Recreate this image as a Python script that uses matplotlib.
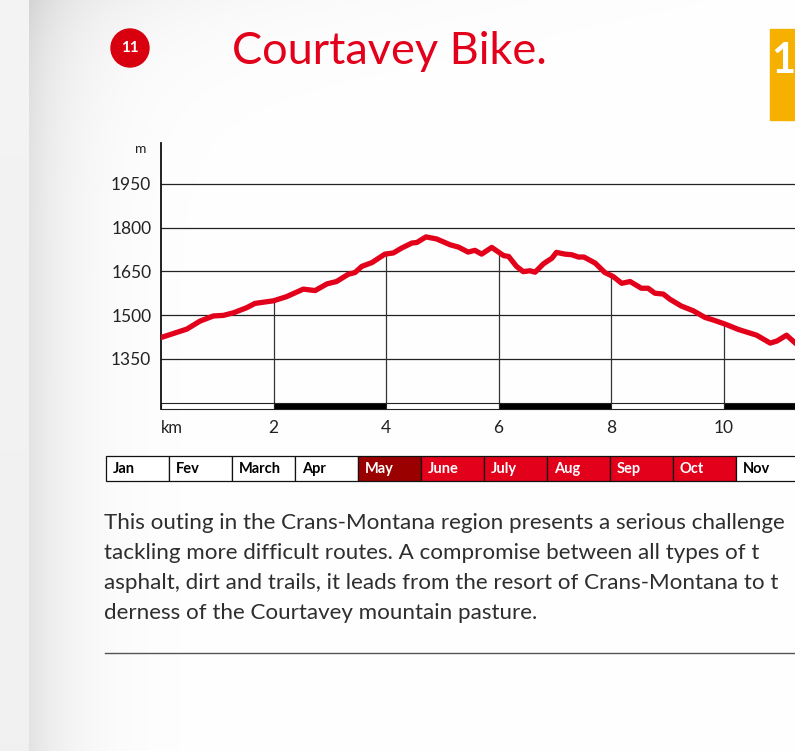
import numpy as np
import matplotlib.pyplot as plt
from matplotlib.patches import Rectangle, Circle
from matplotlib.transforms import blended_transform_factory

plt.rcParams['font.family'] = ['Lato', 'DejaVu Sans']

W, H = 795, 751  # taille en pixels

# profil altimétrique : distance (km) et altitude (m)
distance = [0, 0.46, 0.69, 0.93, 1.11, 1.29, 1.52, 1.67, 2.00, 2.23,
            2.53, 2.74, 2.95, 3.12, 3.33, 3.45, 3.57, 3.75, 3.98, 4.13,
            4.28, 4.46, 4.55, 4.71, 4.90, 5.14, 5.29, 5.46, 5.58, 5.70,
            5.88, 6.00, 6.09, 6.18, 6.32, 6.44, 6.56, 6.65, 6.80, 6.95,
            7.03, 7.18, 7.30, 7.42, 7.52, 7.72, 7.89, 8.04, 8.19, 8.34,
            8.54, 8.66, 8.78, 8.93, 9.05, 9.25, 9.46, 9.67, 9.82, 10.03,
            10.26, 10.59, 10.83, 10.95, 11.12, 11.30]
altitude = [1423, 1452, 1479, 1497, 1499, 1508, 1525, 1540, 1549, 1563,
            1589, 1584, 1607, 1615, 1640, 1646, 1667, 1680, 1709, 1713,
            1730, 1747, 1749, 1768, 1761, 1741, 1733, 1716, 1722, 1709,
            1732, 1716, 1704, 1701, 1667, 1649, 1652, 1647, 1676, 1695,
            1715, 1709, 1707, 1699, 1699, 1678, 1646, 1632, 1609, 1615,
            1592, 1592, 1575, 1572, 1554, 1531, 1515, 1492, 1483, 1469,
            1451, 1431, 1404, 1411, 1431, 1400]

y_ticks = [1350, 1500, 1650, 1800, 1950]
km_marks = [2, 4, 6, 8, 10]
scale_edges = [0, 2, 4, 6, 8, 10, 12]

months = ["Jan", "Fev", "March", "Apr", "May", "June", "July", "Aug",
          "Sep", "Oct", "Nov"]
# 0 = fermé, 1 = début de saison, 2 = ouvert
season = [0, 0, 0, 0, 1, 2, 2, 2, 2, 2, 0]

title = "Courtavey Bike."
route_no = "11"
next_no = "1"
body = ["This outing in the Crans-Montana region presents a serious challenge",
        "tackling more difficult routes. A compromise between all types of t",
        "asphalt, dirt and trails, it leads from the resort of Crans-Montana to t",
        "derness of the Courtavey mountain pasture."]

RED = "#e2001a"
DARK_RED = "#9b0000"
YELLOW = "#f5b000"

fig = plt.figure(figsize=(W / 100, H / 100), dpi=100)

# fond de page (ombre en haut à gauche)
bg = fig.add_axes([0, 0, 1, 1])
bg.set_xlim(0, W)
bg.set_ylim(H, 0)
bg.axis('off')
xx, yy = np.meshgrid(np.arange(W), np.arange(H))
shade = 1 - 0.11 * np.exp(-(xx - 29) / 45.0) - 0.06 * np.exp(-yy / 55.0) * np.exp(-(xx - 29) / 250.0)
shade = np.where(xx < 29, 0.955 - 0.01 * yy / H, shade)
img = np.dstack([shade, shade, shade]).clip(0, 1)
bg.imshow(img, extent=(0, W, H, 0), aspect='auto', zorder=0)

# pastille et titre
bg.add_patch(Circle((130, 48), 19, color="#d8000f", zorder=2))
bg.text(130, 48.5, route_no, color="white", fontsize=11, fontweight="bold",
        ha="center", va="center", zorder=3)
bg.text(232, 64, title, color=RED, fontsize=32.5, va="baseline", zorder=3)

# onglet jaune à droite
bg.add_patch(Rectangle((770, 29), 40, 91, color=YELLOW, zorder=2))
bg.text(771, 73, next_no, color="white", fontsize=30, fontweight="bold",
        va="baseline", zorder=3)

# tableau des mois
for i, (mois, s) in enumerate(zip(months, season)):
    x0 = 106 + i * 63
    face = {0: "white", 1: DARK_RED, 2: RED}[s]
    bg.add_patch(Rectangle((x0, 456), 63, 25, facecolor=face,
                           edgecolor="#111111", lw=0.9, zorder=2))
    bg.text(x0 + 7, 469, mois, color="black" if s == 0 else "white",
            fontsize=10.5, fontweight="bold", va="center", zorder=3)

# texte descriptif
for k, ligne in enumerate(body):
    bg.text(104, 529 + 30 * k, ligne, color="#2e2e2e", fontsize=16.1,
            va="baseline", zorder=3)
bg.plot([105, W + 5], [653, 653], color="#555555", lw=1, zorder=2)

# graphique du profil
x0_px, x1_px = 161, 161 + 12 * 56.25
y0_px, y1_px = 409, 143
ax = fig.add_axes([x0_px / W, (H - y0_px) / H, (x1_px - x0_px) / W, (y0_px - y1_px) / H])
ax.patch.set_alpha(0)
ax.set_xlim(0, 12)
ax.set_ylim(1178, 2090)
for side in ["top", "right", "bottom"]:
    ax.spines[side].set_visible(False)
ax.spines["left"].set_linewidth(1.3)
ax.spines["left"].set_color("#111111")

for yt in y_ticks:
    ax.axhline(yt, color="#222222", lw=0.9, zorder=1)
ax.set_yticks(y_ticks)
ax.set_yticklabels([str(v) for v in y_ticks])
ax.tick_params(axis="y", length=0, pad=7, labelsize=12.5, labelcolor="#222222")
ax.set_xticks(km_marks)
ax.set_xticklabels([str(v) for v in km_marks])
ax.tick_params(axis="x", length=0, pad=8, labelsize=12.5, labelcolor="#222222")

trans = blended_transform_factory(ax.transAxes, ax.transAxes)
ax.text(-0.03, 1.0, "m", transform=trans, fontsize=10, ha="center", va="top", color="#222222")
ax.text(0.0, -0.04, "km", transform=trans, fontsize=12, ha="left", va="top", color="#222222")

# échelle kilométrique noire / blanche
bar_top = 1200
for j in range(len(scale_edges) - 1):
    a, b = scale_edges[j], scale_edges[j + 1]
    ax.add_patch(Rectangle((a, 1178), b - a, bar_top - 1178,
                           facecolor="black" if j % 2 else "white",
                           edgecolor="#222222", lw=0.8, zorder=2, clip_on=False))

# traits verticaux jusqu'au profil
ax.vlines(km_marks, bar_top, np.interp(km_marks, distance, altitude),
          color="#333333", lw=0.9, zorder=1)

ax.plot(distance, altitude, color=RED, lw=3.8, solid_capstyle="round",
        solid_joinstyle="round", zorder=3)

fig.savefig("out.png", dpi=100)
